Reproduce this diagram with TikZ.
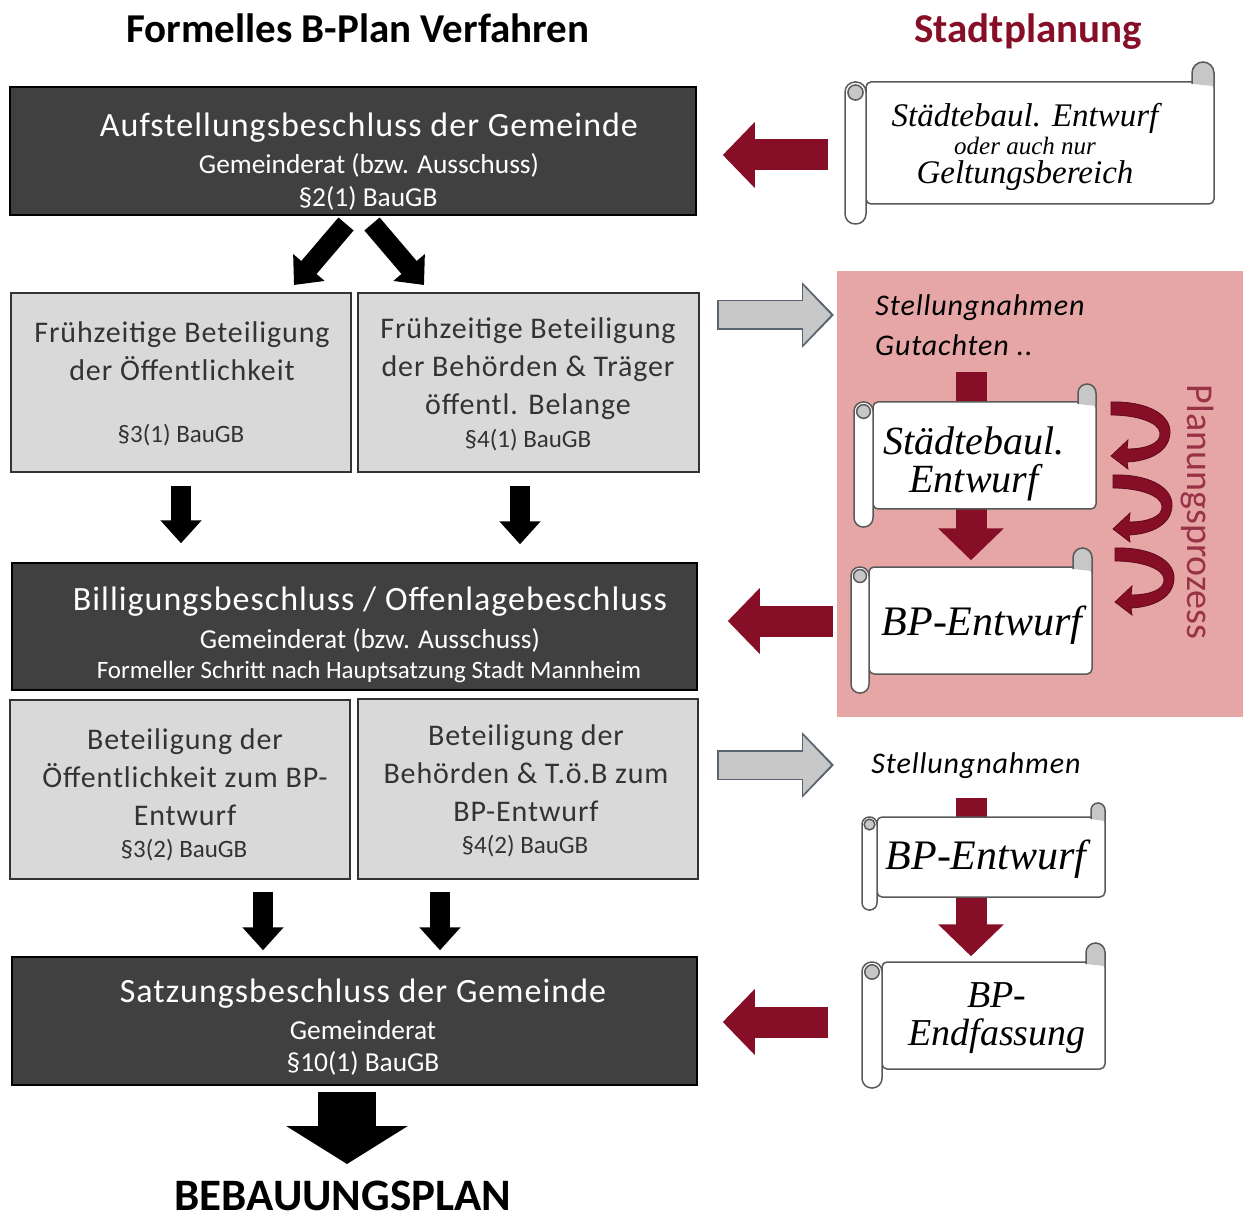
\documentclass[tikz,border=0pt]{standalone}
\usepackage{fontspec}
\usepackage{xcolor}
\setmainfont{Carlito}
\newfontfamily\boxfont[LetterSpace=3]{Carlito}
\newfontfamily\handfont{Liberation Serif}
\usetikzlibrary{
  	positioning,
  	arrows.meta,
  	calc,
  	fit
  }
\definecolor{dunkel}{HTML}{404040}
\definecolor{hellgrau}{HTML}{D9D9D9}
\definecolor{rosa}{HTML}{E6A6A6}
\definecolor{weinrot}{HTML}{860F27}
\definecolor{pfeilrand}{HTML}{5A6470}
\pgfdeclarelayer{back}
\pgfdeclarelayer{mid}
\pgfsetlayers{back,mid,main}
\newcommand{\fs}[1]{\fontsize{#1}{#1}\selectfont}
\tikzset{
  darkbox/.style={draw=black, fill=dunkel, line width=1.5pt, inner sep=0pt},
  graybox/.style={draw=black!80, fill=hellgrau, line width=1.5pt, inner sep=0pt},
  bigtxt/.style={text=white, font=\boxfont\fs{34}, yshift=-2pt},
  subtxt/.style={text=white, font=\fs{27.4}, yshift=-2pt},
  smalltxt/.style={text=white, font=\fs{25}, yshift=-2pt},
  graytxt/.style={text=black!80, font=\boxfont\fs{30}, align=center, yshift=-1pt},
  paratxt/.style={text=black!80, font=\fs{25}, yshift=-1pt},
  handtxt/.style={text=black, font=\handfont\itshape\fs{#1}, align=center, inner sep=0pt},
  notetxt/.style={text=black, font=\boxfont\itshape\fs{30}, inner sep=0pt, yshift=-1pt},
  blackarrow/.style={draw=black, line width=20pt, -{Triangle[width=40pt,length=23pt]}},
  redarrow/.style={draw=weinrot, line width=31pt, -{Triangle[width=64pt,length=32pt]}},
  grayarrow/.style={draw=hellgrau!92!black, line width=27pt, shorten <=1.5pt, shorten >=3pt,
    -{Triangle[width=57pt,length=28pt]},
    preaction={draw=pfeilrand, line width=30pt, shorten <=0pt, shorten >=0pt,
      -{Triangle[width=64pt,length=32pt]}}},
  rolle/.style={draw=black!65, fill=white, line width=1.5pt},
  rollecurl/.style={draw=black!65, fill=black!22, line width=1.5pt}
}
% name, x left, y top, x right, y bottom, roll width, roll drop, curl rise, curl width
\newcommand{\schriftrolle}[9]{
  \node[rolle, rounded corners=5pt, inner sep=0pt, fit={({#2+#6},#3) (#4,#5)}] (#1) {};
  \draw[rollecurl] ({#4-#9},{#3+2}) -- ({#4-#9},{#3-#8+#9/2}) arc[start angle=180, end angle=360, radius={#9/2}] -- (#4,{#3+4});
  \draw[rolle, rounded corners=#6*0.48pt] (#2,#3) rectangle ({#2+#6},{#5+#7});
  \draw[rollecurl] ({#2+#6/2},{#3+#6/2}) circle[radius={#6*.36}];
}

\begin{document}
\begin{tikzpicture}[x=1pt, y=-1pt]
  	\useasboundingbox (0,0) rectangle (1243,1214);
  	% headings
  	\node[font=\bfseries\fs{41}] (head1) at (358,28) {Formelles B-Plan Verfahren};
  	\node[font=\bfseries\fs{41}, text=weinrot] (head2) at (1028,32) {Stadtplanung};

  	% left column
  	\node[darkbox, minimum width=686pt, minimum height=128pt] (besch1) at (353,151) {};
  	\node[bigtxt] (besch1a) at (369,126) {Aufstellungsbeschluss der Gemeinde};
  	\node[subtxt] (besch1b) at (369,163) {Gemeinderat (bzw. Ausschuss)};
  	\node[subtxt] (besch1c) at (368,196) {§2(1) BauGB};

  	\node[graybox, minimum width=340pt, minimum height=179pt] (frueh1) at (181,382.5) {};
  	\node[graytxt] (frueh1a) at (182,350) {Frühzeitige Beteiligung\\[8pt]der Öffentlichkeit};
  	\node[paratxt] (frueh1b) at (181,434) {§3(1) BauGB};
  	\node[graybox, minimum width=341pt, minimum height=179pt] (frueh2) at (528.5,382.5) {};
  	\node[graytxt] (frueh2a) at (528,368) {Frühzeitige Beteiligung\\[8pt]der Behörden \& Träger\\[8pt]öffentl. Belange};
  	\node[paratxt] (frueh2b) at (528,439) {§4(1) BauGB};

  	\node[darkbox, minimum width=685pt, minimum height=127pt] (besch2) at (354.5,626.5) {};
  	\node[bigtxt] (besch2a) at (370,600) {Billigungsbeschluss / Offenlagebeschluss};
  	\node[subtxt] (besch2b) at (370,638) {Gemeinderat (bzw. Ausschuss)};
  	\node[smalltxt] (besch2c) at (369,670) {Formeller Schritt nach Hauptsatzung Stadt Mannheim};

  	\node[graybox, minimum width=340pt, minimum height=179pt] (bet1) at (180,789.5) {};
  	\node[graytxt] (bet1a) at (185,776) {Beteiligung der\\[8pt]Öffentlichkeit zum BP-\\[8pt]Entwurf};
  	\node[paratxt] (bet1b) at (184,849) {§3(2) BauGB};
  	\node[graybox, minimum width=340pt, minimum height=180pt] (bet2) at (528,789) {};
  	\node[graytxt] (bet2a) at (526,772) {Beteiligung der\\[8pt]Behörden \& T.ö.B zum\\[8pt]BP-Entwurf};
  	\node[paratxt] (bet2b) at (525,845) {§4(2) BauGB};

  	\node[darkbox, minimum width=685pt, minimum height=128pt] (besch3) at (354.5,1021) {};
  	\node[bigtxt] (besch3a) at (363,992) {Satzungsbeschluss der Gemeinde};
  	\node[subtxt] (besch3b) at (363,1028) {Gemeinderat};
  	\node[subtxt] (besch3c) at (363,1061) {§10(1) BauGB};
  	\node[font=\bfseries\fs{45}, inner sep=0pt] (plan) at (343,1196) {BEBAUUNGSPLAN};

  	% black arrows
  	\coordinate (d1) at (346,224);
  	\coordinate (d2) at (294,285);
  	\coordinate (d3) at (372,224);
  	\coordinate (d4) at (424,285);
  	\draw[blackarrow] (d1) -- (d2);
  	\draw[blackarrow] (d3) -- (d4);
  	\coordinate (d5) at (520,486);
  	\coordinate (d6) at (263,892);
  	\coordinate (d7) at (440,892);
  	\draw[blackarrow, shorten <=13pt, shorten >=19pt] (frueh1.south) -- (frueh1.south |- besch2.north);
  	\draw[blackarrow, shorten >=18pt] (d5) -- (d5 |- besch2.north);
  	\draw[blackarrow, shorten >=6pt] (d6) -- (d6 |- besch3.north);
  	\draw[blackarrow, shorten >=6pt] (d7) -- (d7 |- besch3.north);
  	\coordinate (d8) at (347,1092);
  	\draw[draw=black, line width=58pt, -{Triangle[width=120pt,length=38pt]}] (d8) -- (347,1164) coordinate (d9);

  	% right column
  	\begin{pgfonlayer}{back}
  	  \node[fill=rosa, minimum width=406pt, minimum height=446pt, inner sep=0pt] (panel) at (1040,494) {};
  	\end{pgfonlayer}
  	\schriftrolle{rolle1}{845}{82}{1214}{204}{21}{20}{20}{22}
  	\node[handtxt=33] (rolle1a) at (1025,118) {Städtebaul. Entwurf};
  	\node[handtxt=25] (rolle1b) at (1025,146) {oder auch nur};
  	\node[handtxt=33] (rolle1c) at (1025,176) {Geltungsbereich};

  	\schriftrolle{rolle2}{854}{402}{1096}{509}{19}{18}{18}{18}
  	\node[handtxt=40] (rolle2a) at (974,464) {Städtebaul.\\[-2pt]Entwurf};
  	\schriftrolle{rolle3}{851}{567}{1092}{674}{18}{19}{19}{19}
  	\node[handtxt=42] (rolle3a) at (982,625) {BP-Entwurf};
  	\schriftrolle{rolle4}{862}{817}{1105}{897}{15}{13}{14}{14}
  	\node[handtxt=42] (rolle4a) at (986,859) {BP-Entwurf};
  	\schriftrolle{rolle5}{862}{962}{1105}{1069}{20}{19}{19}{19}
  	\node[handtxt=38] (rolle5a) at (997,1018) {BP-\\Endfassung};

  	\node[notetxt] (note1) at (980,307) {Stellungnahmen};
  	\node[notetxt, anchor=west] (note2) at (875,344) {Gutachten ..};
  	\node[notetxt] (note3) at (976,765) {Stellungnahmen};
  	\node[font=\fs{38}, text=weinrot!85!white, rotate=-90, inner sep=0pt] (prozess) at (1197,512) {Planungsprozess};

  	% red arrows
  	\begin{pgfonlayer}{mid}
  	  \coordinate (r1) at (971,372);
  	  \coordinate (r2) at (971,798);
  	  \draw[redarrow, shorten >=6pt] (r1) -- (r1 |- rolle3.north);
  	  \draw[redarrow, shorten >=5pt] (r2) -- (r2 |- rolle5.north);
  	\end{pgfonlayer}
  	\coordinate (r3) at (828,155);
  	\coordinate (r4) at (833,621);
  	\coordinate (r5) at (828,1022);
  	\draw[redarrow, shorten >=26pt] (r3) -- (r3 -| besch1.east);
  	\draw[redarrow, shorten >=30pt] (r4) -- (r4 -| besch2.east);
  	\draw[redarrow, shorten >=25pt] (r5) -- (r5 -| besch3.east);

  	% gray arrows
  	\coordinate (g1) at (717,315);
  	\coordinate (g2) at (834,315);
  	\coordinate (g3) at (717,765);
  	\coordinate (g4) at (834,765);
  	\draw[grayarrow] (g1) -- (g2);
  	\draw[grayarrow] (g3) -- (g4);

  	% planning loops
  	\foreach \lx/\ly in {1111/402, 1113/475, 1115/548}{
  	  \filldraw[fill=weinrot, draw=weinrot!70!black, line width=.8pt, shift={(\lx,\ly)}] (0,0) .. controls (35,-1) and (60,12) .. (59,31)
  	    .. controls (58,50) and (38,59) .. (16,60) -- (17,67) -- (0,54) -- (17,38) -- (16,47)
  	    .. controls (34,47) and (50,42) .. (49,31) .. controls (48,20) and (25,13) .. (0,13) -- cycle;
  	}
\end{tikzpicture}
\end{document}
